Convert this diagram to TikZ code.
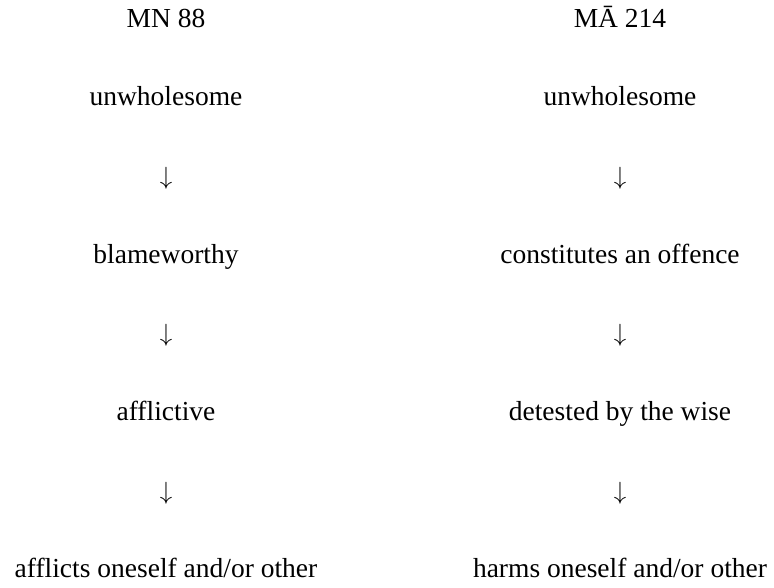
\documentclass[tikz,border=0pt]{standalone}
\usepackage{fontspec}
\setmainfont{Liberation Serif}
\tikzset{
  word/.style={anchor=base, inner sep=0pt, font=\fontsize{27.5}{32}\selectfont},
}
\begin{document}
\begin{tikzpicture}[x=1pt, y=1pt]
\useasboundingbox (0,0) rectangle (774,-587);

% column heads
\node[word] (mnhead) at (166,-27) {MN 88};
\node[word] (mahead) at (620,-27) {MĀ 214};

% the two lists, arrows between the steps
\foreach \i/\ltext/\rtext in {1/unwholesome/unwholesome,
                              3/blameworthy/constitutes an offence,
                              5/afflictive/detested by the wise,
                              7/afflicts oneself and\slash or other/harms oneself and\slash or other}
{
    \node[word] (mn\i) at (166,-27-78.7*\i) {\ltext};
    \node[word] (ma\i) at (620,-27-78.7*\i) {\rtext};
}
\foreach \i in {2,4,6}
{
    \node[word] (mnarr\i) at (166,-27-78.7*\i) {$\downarrow$};
    \node[word] (maarr\i) at (620,-27-78.7*\i) {$\downarrow$};
}
\end{tikzpicture}
\end{document}
